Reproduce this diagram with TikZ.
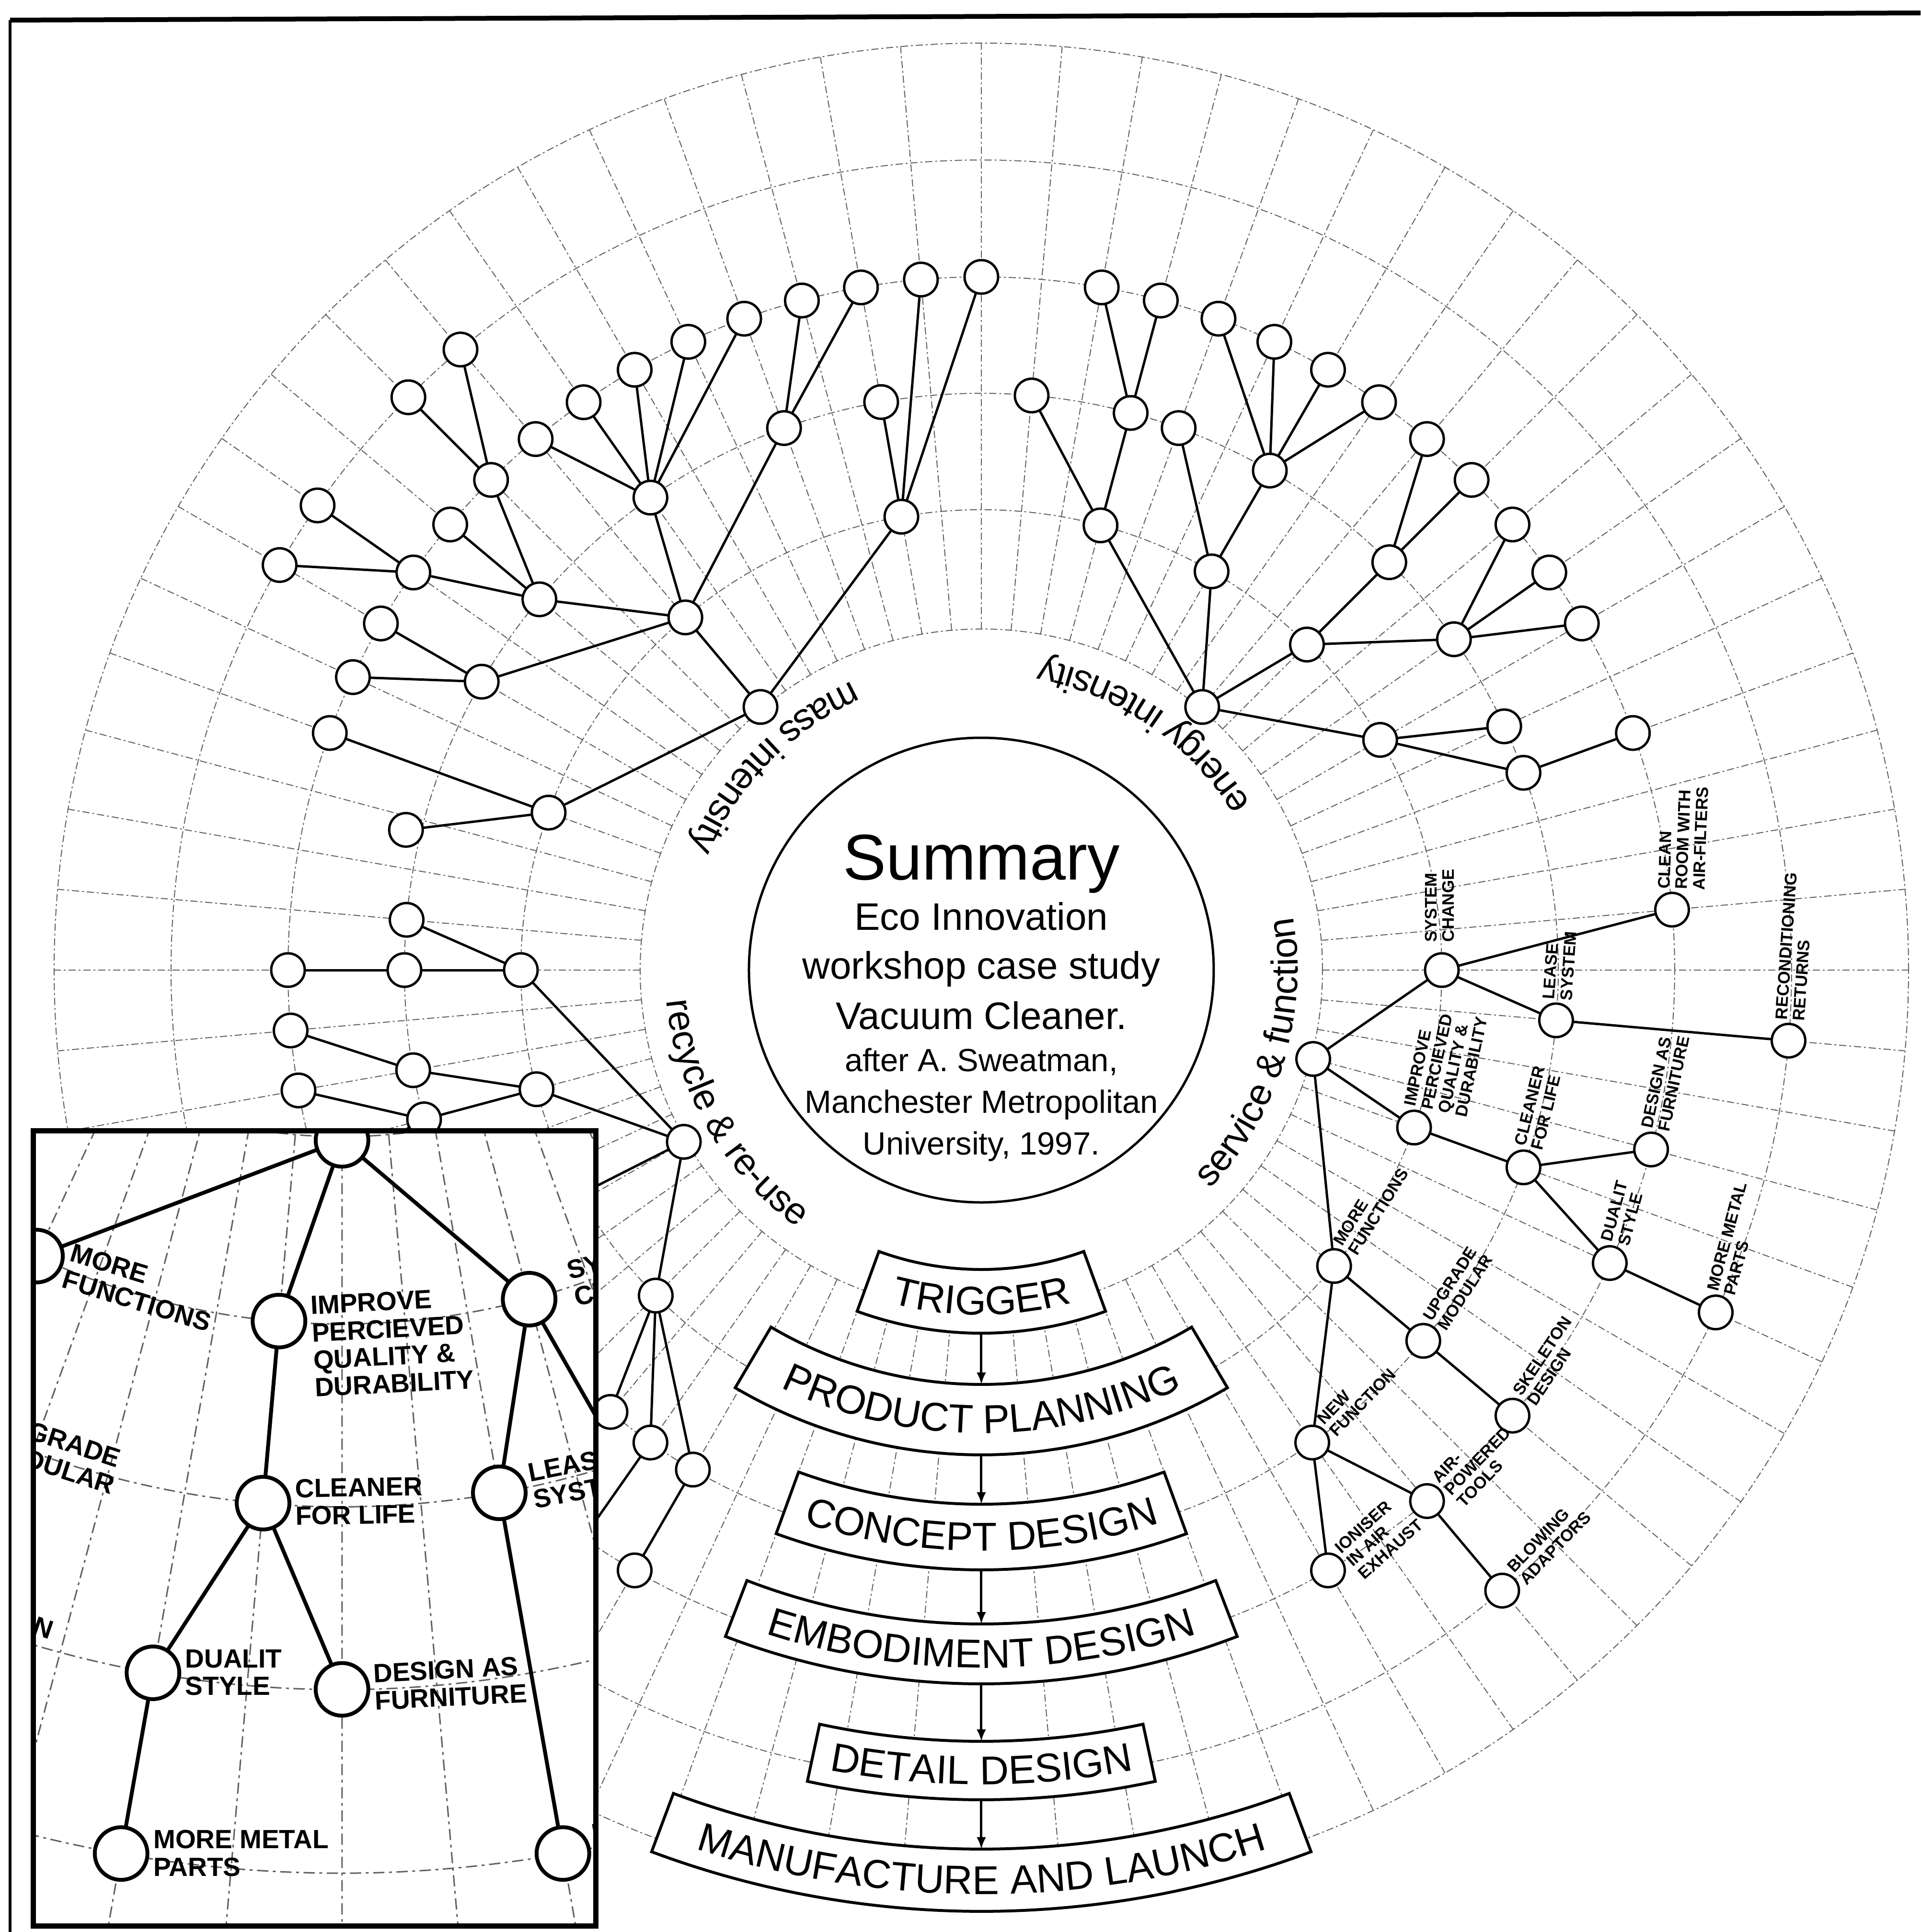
\documentclass[tikz,border=0pt]{standalone}
\usepackage{fontspec}
\setmainfont{Liberation Sans}
\usetikzlibrary{decorations.text,arrows.meta}

% radii of the rings that carry the tree nodes
\def\ringO{143.4pt}
\def\ringI{192.2pt}
\def\ringII{240.8pt}
\def\ringIII{289.4pt}
\def\ringIV{338.2pt}
\def\lw{1pt}

\newcommand\ringfont{\fontsize{15.6}{18}\selectfont}
\newcommand\stagefont{\fontsize{16.8}{19}\selectfont}
\newcommand\leaffont{\bfseries\fontsize{7}{7.3}\selectfont}

\tikzset{
  gridline/.style={draw=black!62, line width=0.4pt, dash pattern=on 3pt off 1.2pt on 0.8pt off 1.2pt},
  tnode/.style={circle, draw, fill=white, line width=\lw, minimum size=14pt, inner sep=0pt, outer sep=0pt},
  tedge/.style={line width=\lw},
  leaflabel/.style={font=\leaffont, align=left, anchor=north west, inner sep=0pt},
  stagebox/.style={draw, fill=white, line width=1.2pt},
  flow/.style={line width=1pt, -{Latex[length=5pt,width=4pt]}},
}

% dashed polar grid
\newcommand\polargrid{%
  \foreach \r in {142.4pt,192.2pt,240.8pt,289.4pt,338.2pt,387pt}
    \draw[gridline] (0,0) circle[radius=\r];
  \foreach \a in {0,5,...,355}
    \draw[gridline] (\a:142.4pt) -- (\a:387pt);
}

% rotated caption beside a tree node: node, angle, offset along, offset across, text
\newcommand\treelabelat[5]{\path (#1) ++(#2:#3) ++(#2+90:#4) node[leaflabel, rotate=#2] {#5};}
\newcommand\treelabel[3]{\treelabelat{#1}{#2}{8.4pt}{6.4pt}{#3}}

% service & function branch (drawn in the main plot and in the enlarged detail)
\newcommand\servicetree{%
  \node[tnode] (sf) at (-15:\ringO) {};
  \node[tnode] (sc) at (0:\ringI) {};
  \node[tnode] (cr) at (5:\ringIII) {};
  \node[tnode] (ls) at (-5:\ringII) {};
  \node[tnode] (rr) at (-5:\ringIV) {};
  \node[tnode] (ip) at (-20:\ringI) {};
  \node[tnode] (cl) at (-20:\ringII) {};
  \node[tnode] (df) at (-15:\ringIII) {};
  \node[tnode] (du) at (-25:\ringIII) {};
  \node[tnode] (mm) at (-25:\ringIV) {};
  \node[tnode] (mf) at (-40:\ringI) {};
  \node[tnode] (um) at (-40:\ringII) {};
  \node[tnode] (sk) at (-40:\ringIII) {};
  \node[tnode] (nf) at (-55:\ringII) {};
  \node[tnode] (ap) at (-50:\ringIII) {};
  \node[tnode] (io) at (-60:\ringIII) {};
  \node[tnode] (ba) at (-50:\ringIV) {};
  \foreach \p/\q in {sf/sc,sf/ip,sf/mf,sc/cr,sc/ls,ls/rr,ip/cl,cl/df,cl/du,du/mm,mf/um,mf/nf,um/sk,nf/ap,nf/io,ap/ba}
    \draw[tedge] (\p) -- (\q);
  \treelabelat{sc}{90}{11.6pt}{7.2pt}{SYSTEM\\CHANGE}
  \treelabel{cr}{88}{CLEAN\\ROOM WITH\\AIR-FILTERS}
  \treelabel{ls}{86}{LEASE\\SYSTEM}
  \treelabel{rr}{86}{RECONDITIONING\\RETURNS}
  \treelabel{ip}{78}{IMPROVE\\PERCIEVED\\QUALITY \&\\DURABILITY}
  \treelabel{cl}{76}{CLEANER\\FOR LIFE}
  \treelabel{df}{78}{DESIGN AS\\FURNITURE}
  \treelabel{du}{75}{DUALIT\\STYLE}
  \treelabel{mm}{75}{MORE METAL\\PARTS}
  \treelabel{mf}{58}{MORE\\FUNCTIONS}
  \treelabel{um}{57}{UPGRADE\\MODULAR}
  \treelabel{sk}{56}{SKELETON\\DESIGN}
  \treelabel{nf}{46}{NEW\\FUNCTION}
  \treelabel{ap}{46}{AIR-\\POWERED\\TOOLS}
  \treelabel{io}{42}{IONISER\\IN AIR\\EXHAUST}
  \treelabel{ba}{46}{BLOWING\\ADAPTORS}
}

% curved label on the inner ring
\newcommand\ringlabel[2]{\path[decorate, decoration={text along path, text={|\ringfont|#2}, text align=center}]
  (#1-45:132pt) arc[start angle=#1-45, end angle=#1+45, radius=132pt];}

% one stage of the design process: inner r, outer r, half angle, baseline r, text
\newcommand\stage[5]{%
  \path[stagebox] (-90-#3:#1) arc[start angle=-90-#3, end angle=-90+#3, radius=#1]
    -- (-90+#3:#2) arc[start angle=-90+#3, end angle=-90-#3, radius=#2] -- cycle;
  \path[decorate, decoration={text along path, text={|\stagefont|#5}, text align=center}]
    (-150:#4) arc[start angle=-150, end angle=-30, radius=#4];
}

\begin{document}
\begin{tikzpicture}
\useasboundingbox (-409.6pt,-401.6pt) rectangle (392pt,405pt);
\fill[white] (-409.6pt,-401.6pt) rectangle (392pt,405pt);

\polargrid

% centre
\node[circle, draw, line width=1pt, minimum size=194pt, inner sep=0pt] (summary) at (0,0) {};
\node[anchor=base, font=\fontsize{27}{30}\selectfont] (sumtitle) at (0,37.8pt) {Summary};
\node[anchor=base, font=\fontsize{16}{18}\selectfont] (sum1) at (0,16.8pt) {Eco Innovation};
\node[anchor=base, font=\fontsize{16}{18}\selectfont] (sum2) at (0,-3.6pt) {workshop case study};
\node[anchor=base, font=\fontsize{16}{18}\selectfont] (sum3) at (0,-24.6pt) {Vacuum Cleaner.};
\node[anchor=base, font=\fontsize{13.4}{15}\selectfont] (sum4) at (0,-42.2pt) {after A. Sweatman,};
\node[anchor=base, font=\fontsize{13.4}{15}\selectfont] (sum5) at (0,-59.6pt) {Manchester Metropolitan};
\node[anchor=base, font=\fontsize{13.4}{15}\selectfont] (sum6) at (0,-77pt) {University, 1997.};

\ringlabel{135.6}{mass intensity}
\ringlabel{55.5}{energy intensity}
\ringlabel{-17}{service {\&} function}
\ringlabel{210}{recycle {\&} re-use}

% mass intensity branch
\node[tnode] (ms) at (130:\ringO) {};
\node[tnode] (ms1) at (160:\ringI) {};
\node[tnode] (ms2) at (130:\ringI) {};
\node[tnode] (ms3) at (100:\ringI) {};
\node[tnode] (ms11) at (166.3:247.2pt) {};
\node[tnode] (ms12) at (160:\ringIII) {};
\node[tnode] (ms21) at (150:\ringII) {};
\node[tnode] (ms211) at (155:\ringIII) {};
\node[tnode] (ms212) at (150:\ringIII) {};
\node[tnode] (ms22) at (140:\ringII) {};
\node[tnode] (ms221) at (145:\ringIII) {};
\node[tnode] (ms2211) at (150:\ringIV) {};
\node[tnode] (ms2212) at (145:\ringIV) {};
\node[tnode] (ms222) at (140:\ringIII) {};
\node[tnode] (ms223) at (135:\ringIII) {};
\node[tnode] (ms2231) at (135:\ringIV) {};
\node[tnode] (ms2232) at (130:\ringIV) {};
\node[tnode] (ms23) at (125:\ringII) {};
\node[tnode] (ms231) at (130:\ringIII) {};
\node[tnode] (ms232) at (125:\ringIII) {};
\node[tnode] (ms233) at (120:\ringIII) {};
\node[tnode] (ms234) at (115:\ringIII) {};
\node[tnode] (ms235) at (110:\ringIII) {};
\node[tnode] (ms24) at (110:\ringII) {};
\node[tnode] (ms241) at (105:\ringIII) {};
\node[tnode] (ms242) at (100:\ringIII) {};
\node[tnode] (ms31) at (100:\ringII) {};
\node[tnode] (ms32) at (95:\ringIII) {};
\node[tnode] (ms33) at (90:\ringIII) {};
\foreach \p/\q in {ms/ms1,ms/ms2,ms/ms3,ms1/ms11,ms1/ms12,ms2/ms21,ms2/ms22,ms2/ms23,ms2/ms24,
  ms21/ms211,ms21/ms212,ms22/ms221,ms22/ms222,ms22/ms223,ms221/ms2211,ms221/ms2212,
  ms223/ms2231,ms223/ms2232,ms23/ms231,ms23/ms232,ms23/ms233,ms23/ms234,ms23/ms235,
  ms24/ms241,ms24/ms242,ms3/ms31,ms3/ms32,ms3/ms33}
  \draw[tedge] (\p) -- (\q);

% energy intensity branch
\node[tnode] (es) at (50:\ringO) {};
\node[tnode] (es1) at (75:\ringI) {};
\node[tnode] (es11) at (85:\ringII) {};
\node[tnode] (es12) at (75:\ringII) {};
\node[tnode] (es121) at (80:\ringIII) {};
\node[tnode] (es122) at (75:\ringIII) {};
\node[tnode] (es2) at (60:\ringI) {};
\node[tnode] (es21) at (70:\ringII) {};
\node[tnode] (es22) at (60:\ringII) {};
\node[tnode] (es221) at (70:\ringIII) {};
\node[tnode] (es222) at (65:\ringIII) {};
\node[tnode] (es223) at (60:\ringIII) {};
\node[tnode] (es224) at (55:\ringIII) {};
\node[tnode] (es3) at (45:\ringI) {};
\node[tnode] (es31) at (45:\ringII) {};
\node[tnode] (es311) at (50:\ringIII) {};
\node[tnode] (es312) at (45:\ringIII) {};
\node[tnode] (es32) at (35:\ringII) {};
\node[tnode] (es321) at (40:\ringIII) {};
\node[tnode] (es322) at (35:\ringIII) {};
\node[tnode] (es323) at (30:\ringIII) {};
\node[tnode] (es4) at (30:\ringI) {};
\node[tnode] (es41) at (25:\ringII) {};
\node[tnode] (es42) at (20:\ringII) {};
\node[tnode] (es421) at (20:\ringIII) {};
\foreach \p/\q in {es/es1,es/es2,es/es3,es/es4,es1/es11,es1/es12,es12/es121,es12/es122,
  es2/es21,es2/es22,es22/es221,es22/es222,es22/es223,es22/es224,es3/es31,es3/es32,
  es31/es311,es31/es312,es32/es321,es32/es322,es32/es323,es4/es41,es4/es42,es42/es421}
  \draw[tedge] (\p) -- (\q);

% recycle & re-use branch
\node[tnode] (rs) at (210:\ringO) {};
\node[tnode] (rs1) at (180:\ringI) {};
\node[tnode] (rs11) at (175:\ringII) {};
\node[tnode] (rs12) at (180:\ringII) {};
\node[tnode] (rs121) at (180:\ringIII) {};
\node[tnode] (rs2) at (195:\ringI) {};
\node[tnode] (rs21) at (190:\ringII) {};
\node[tnode] (rs211) at (185:\ringIII) {};
\node[tnode] (rs22) at (195:\ringII) {};
\node[tnode] (rs221) at (190:\ringIII) {};
\node[tnode] (rs3) at (225:\ringI) {};
\node[tnode] (rs31) at (230:\ringII) {};
\node[tnode] (rs32) at (235:\ringII) {};
\node[tnode] (rs33) at (240:\ringII) {};
\node[tnode] (rs331) at (240:\ringIII) {};
\coordinate (rsx) at (-209.6pt,-115pt);
\coordinate (rs22x) at (-269.6pt,-83pt);
\coordinate (rs32x) at (235:\ringIII);
\foreach \p/\q in {rs/rs1,rs/rs2,rs/rs3,rs/rsx,rs1/rs11,rs1/rs12,rs12/rs121,rs2/rs21,rs21/rs211,
  rs2/rs22,rs22/rs221,rs22/rs22x,rs3/rs31,rs3/rs32,rs32/rs32x,rs3/rs33,rs33/rs331}
  \draw[tedge] (\p) -- (\q);

% service & function branch
\servicetree

% design process stages
\stage{125pt}{151.6pt}{20}{144pt}{TRIGGER}
\stage{173pt}{202.4pt}{30.5}{193.4pt}{PRODUCT PLANNING}
\stage{223pt}{250.4pt}{20}{242.5pt}{CONCEPT DESIGN}
\stage{273pt}{298pt}{21}{291.3pt}{EMBODIMENT DESIGN}
\stage{322pt}{346.4pt}{12.1}{340pt}{DETAIL DESIGN}
\stage{367pt}{393pt}{20.5}{385.8pt}{MANUFACTURE AND LAUNCH}
\coordinate (trigB) at (-90:151.6pt);
\coordinate (planT) at (-90:173pt);
\coordinate (planB) at (-90:202.4pt);
\coordinate (concT) at (-90:223pt);
\coordinate (concB) at (-90:250.4pt);
\coordinate (embT) at (-90:273pt);
\coordinate (embB) at (-90:298pt);
\coordinate (detT) at (-90:322pt);
\coordinate (detB) at (-90:346.4pt);
\coordinate (manT) at (-90:367pt);
\draw[flow] (trigB) -- (planT);
\draw[flow] (planB) -- (concT);
\draw[flow] (concB) -- (embT);
\draw[flow] (embB) -- (detT);
\draw[flow] (detB) -- (manT);

% enlarged detail of the service & function branch
\fill[white] (-395.6pt,-67pt) rectangle (-160.8pt,-399pt);
\begin{scope}
  \clip (-395.6pt,-67pt) rectangle (-160.8pt,-399pt);
  \begin{scope}[shift={(-291pt,-144pt)}, rotate=-75, scale=1.57, shift={(-179.4pt,64pt)}, transform shape]
    \def\lw{1.6pt}
    \tikzset{gridline/.style={draw=black!62, line width=0.6pt, dash pattern=on 4.7pt off 1.9pt on 1.2pt off 1.9pt}}
    \polargrid
    \servicetree
  \end{scope}
\end{scope}
\draw[line width=2.2pt] (-395.6pt,-67pt) rectangle (-160.8pt,-399pt);

% page frame
\draw[line width=2pt] (-405.4pt,396.6pt) -- (392pt,399.6pt);
\draw[line width=1.2pt] (-405.4pt,396.6pt) -- (-405.4pt,-401.6pt);
\end{tikzpicture}
\end{document}
